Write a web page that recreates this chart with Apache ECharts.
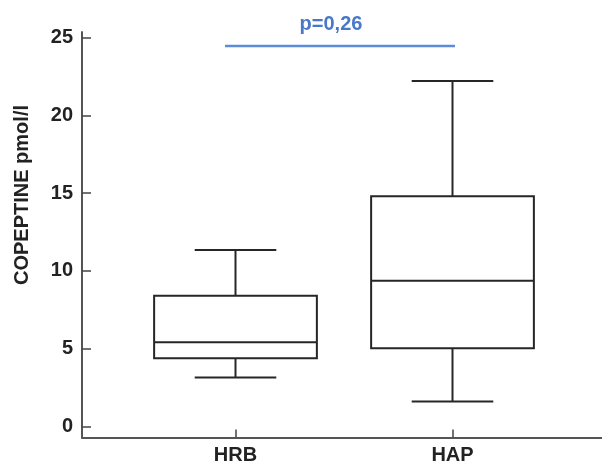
<!DOCTYPE html>
<html>
<head>
<meta charset="utf-8">
<script src="https://cdn.jsdelivr.net/npm/echarts@6/dist/echarts.min.js"></script>
<style>html,body{margin:0;padding:0;background:#fff}#c{width:602px;height:466px}</style>
</head>
<body>
<div id="c"></div>
<script>
const categories = ['HRB', 'HAP'];
const lowerWhisker = [3.15, 1.6];
const q1 = [4.38, 5.03];
const median = [5.42, 9.37];
const q3 = [8.4, 14.8];
const upperWhisker = [11.35, 22.2];
const yTicks = [0, 5, 10, 15, 20, 25];
const yTitle = 'COPEPTINE pmol/l';
const pLabel = 'p=0,26';

const boxData = categories.map((c, i) => [i, lowerWhisker[i], q1[i], median[i], q3[i], upperWhisker[i]]);
const FONT = 'Liberation Sans, Arial, sans-serif';
const INK = '#262626';
const FS = 20;

const chart = echarts.init(document.getElementById('c'), null, {renderer: 'canvas'});
chart.setOption({
  backgroundColor: '#fff',
  animation: false,
  grid: [
    {left: 82, right: 0, top: 32, bottom: 28.5},
    {left: 127, right: 41, top: 37.5, bottom: 39.5},
    {left: 127, right: 41, top: 37.5, bottom: 28.5}
  ],
  xAxis: [
    {gridIndex: 0, type: 'value', min: 0, max: 1, axisLine: {show: true, lineStyle: {color: '#555', width: 2}},
     axisTick: {show: false}, axisLabel: {show: false}, splitLine: {show: false}},
    {gridIndex: 1, type: 'category', data: categories, boundaryGap: true, show: false},
    {gridIndex: 2, type: 'category', data: categories, boundaryGap: true,
     axisLine: {show: false},
     axisTick: {show: true, inside: true, alignWithLabel: true, length: 8, lineStyle: {color: '#444', width: 1.5}},
     axisLabel: {color: '#222', fontWeight: 'bold', fontSize: FS, fontFamily: FONT, margin: 8},
     splitLine: {show: false}}
  ],
  yAxis: [
    {gridIndex: 0, type: 'value', min: 0, max: 1, axisLine: {show: true, lineStyle: {color: '#555', width: 2}},
     axisTick: {show: false}, axisLabel: {show: false}, splitLine: {show: false}},
    {gridIndex: 1, type: 'value', min: yTicks[0], max: yTicks[yTicks.length - 1], interval: 5, offset: 45,
     axisLine: {show: false},
     axisTick: {show: true, inside: true, length: 9, lineStyle: {color: '#444', width: 1.5}},
     axisLabel: {color: '#222', fontWeight: 'bold', fontSize: FS, fontFamily: FONT, margin: 9},
     splitLine: {show: false}},
    {gridIndex: 2, type: 'value', min: 0, max: 1, show: false}
  ],
  series: [{
    type: 'custom',
    xAxisIndex: 1, yAxisIndex: 1,
    data: boxData,
    renderItem: function (params, api) {
      const x = api.value(0);
      const lo = api.coord([x, api.value(1)]);
      const b1 = api.coord([x, api.value(2)]);
      const md = api.coord([x, api.value(3)]);
      const b3 = api.coord([x, api.value(4)]);
      const hi = api.coord([x, api.value(5)]);
      const band = api.size([1, 0])[0];
      const hw = band * 0.375;
      const cw = band * 0.188;
      const cx = lo[0];
      const ls = {stroke: INK, lineWidth: 2, fill: null};
      return {
        type: 'group',
        children: [
          {type: 'line', shape: {x1: cx, y1: b3[1], x2: cx, y2: hi[1]}, style: ls},
          {type: 'line', shape: {x1: cx, y1: b1[1], x2: cx, y2: lo[1]}, style: ls},
          {type: 'line', shape: {x1: cx - cw, y1: hi[1], x2: cx + cw, y2: hi[1]}, style: ls},
          {type: 'line', shape: {x1: cx - cw, y1: lo[1], x2: cx + cw, y2: lo[1]}, style: ls},
          {type: 'rect', shape: {x: cx - hw, y: b3[1], width: 2 * hw, height: b1[1] - b3[1]},
           style: {stroke: INK, lineWidth: 2, fill: '#fff'}},
          {type: 'line', shape: {x1: cx - hw, y1: md[1], x2: cx + hw, y2: md[1]}, style: ls}
        ]
      };
    }
  }],
  graphic: [
    {type: 'text', x: 22, y: 195, rotation: Math.PI / 2,
     style: {text: yTitle, font: 'bold ' + FS + 'px ' + FONT, fill: '#222', align: 'center', verticalAlign: 'middle'}},
    {type: 'line', shape: {x1: 225, y1: 46, x2: 455, y2: 46}, style: {stroke: '#5b8bd9', lineWidth: 2.5}},
    {type: 'text', x: 331, y: 24,
     style: {text: pLabel, font: 'bold ' + FS + 'px ' + FONT, fill: '#4a78c8', align: 'center', verticalAlign: 'middle'}}
  ]
});
</script>
</body>
</html>
